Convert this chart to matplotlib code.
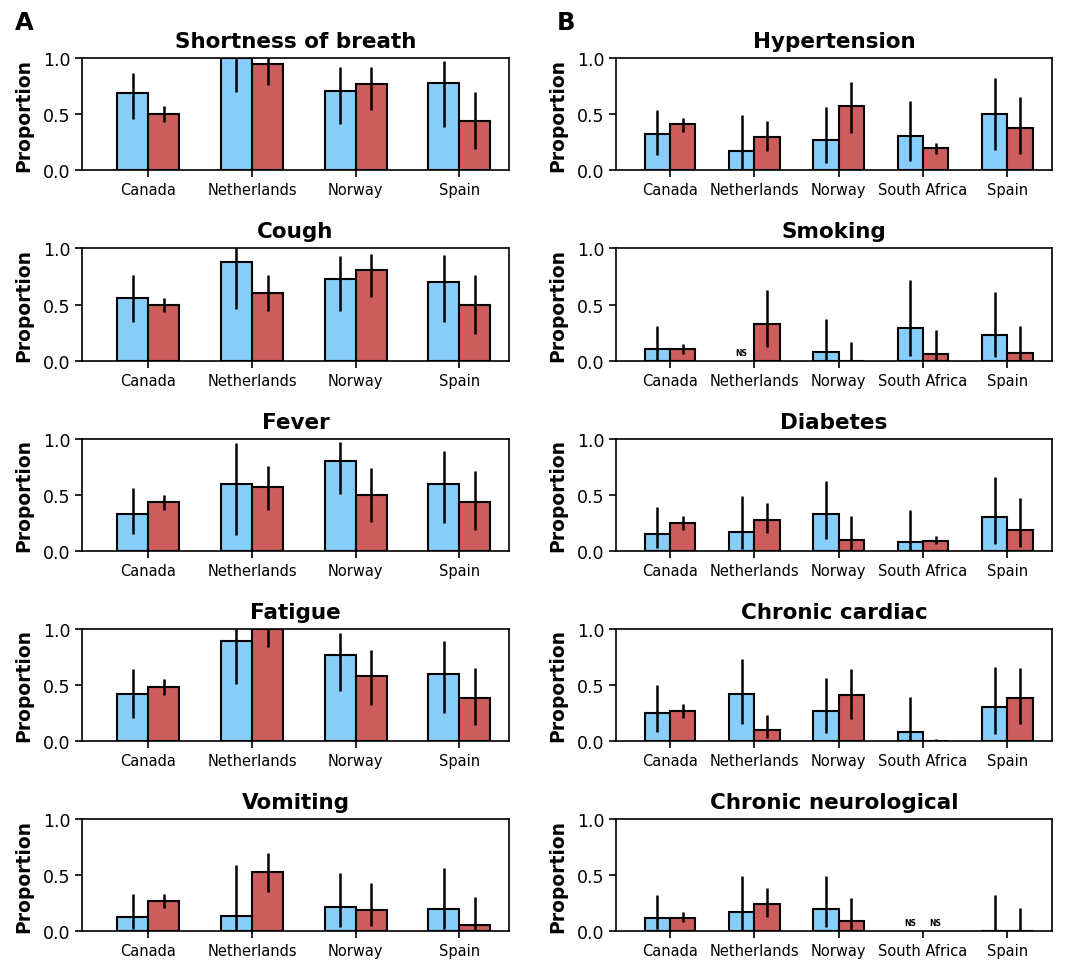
import numpy as np
import matplotlib
matplotlib.use("Agg")
import matplotlib.pyplot as plt

plt.rcParams["font.family"] = ["DejaVu Sans"]

# countries for each column
countries_a = ["Canada", "Netherlands", "Norway", "Spain"]
countries_b = ["Canada", "Netherlands", "Norway", "South Africa", "Spain"]

# panel A: symptoms
symptoms = ["Shortness of breath", "Cough", "Fever", "Fatigue", "Vomiting"]
sym_blue = [[0.69, 1.00, 0.71, 0.78],
            [0.56, 0.88, 0.73, 0.70],
            [0.33, 0.60, 0.80, 0.60],
            [0.42, 0.89, 0.77, 0.60],
            [0.13, 0.14, 0.22, 0.20]]
sym_blue_lo = [[0.46, 0.70, 0.41, 0.39],
               [0.34, 0.46, 0.44, 0.34],
               [0.15, 0.14, 0.51, 0.25],
               [0.21, 0.51, 0.45, 0.25],
               [0.02, 0.00, 0.04, 0.02]]
sym_blue_hi = [[0.87, 1.00, 0.92, 0.97],
               [0.76, 1.00, 0.93, 0.94],
               [0.56, 0.96, 0.97, 0.89],
               [0.64, 1.00, 0.96, 0.89],
               [0.33, 0.59, 0.52, 0.56]]
sym_red = [[0.50, 0.95, 0.77, 0.44],
           [0.50, 0.60, 0.81, 0.50],
           [0.44, 0.57, 0.50, 0.44],
           [0.48, 1.00, 0.58, 0.38],
           [0.27, 0.53, 0.19, 0.06]]
sym_red_lo = [[0.43, 0.76, 0.54, 0.19],
              [0.43, 0.44, 0.57, 0.24],
              [0.37, 0.37, 0.26, 0.19],
              [0.41, 0.84, 0.32, 0.14],
              [0.21, 0.35, 0.05, 0.00]]
sym_red_hi = [[0.57, 1.00, 0.92, 0.70],
              [0.56, 0.76, 0.95, 0.76],
              [0.50, 0.76, 0.74, 0.71],
              [0.55, 1.00, 0.81, 0.65],
              [0.33, 0.70, 0.43, 0.31]]

# panel B: comorbidities (nan = not sampled, shown as NS)
nan = np.nan
comorb = ["Hypertension", "Smoking", "Diabetes", "Chronic cardiac", "Chronic neurological"]
com_blue = [[0.32, 0.17, 0.27, 0.31, 0.50],
            [0.10, nan, 0.08, 0.29, 0.23],
            [0.15, 0.17, 0.33, 0.08, 0.30],
            [0.25, 0.42, 0.27, 0.08, 0.30],
            [0.12, 0.17, 0.20, nan, 0.00]]
com_blue_lo = [[0.14, 0.00, 0.07, 0.08, 0.18],
               [0.00, nan, 0.00, 0.04, 0.03],
               [0.03, 0.02, 0.11, 0.00, 0.06],
               [0.08, 0.15, 0.07, 0.00, 0.06],
               [0.02, 0.01, 0.04, nan, 0.00]]
com_blue_hi = [[0.54, 0.49, 0.56, 0.62, 0.82],
               [0.31, nan, 0.37, 0.72, 0.61],
               [0.39, 0.49, 0.62, 0.37, 0.66],
               [0.50, 0.73, 0.56, 0.39, 0.66],
               [0.32, 0.49, 0.49, nan, 0.32]]
com_red = [[0.41, 0.30, 0.57, 0.20, 0.38],
           [0.10, 0.33, 0.00, 0.06, 0.07],
           [0.25, 0.28, 0.10, 0.09, 0.19],
           [0.27, 0.10, 0.41, 0.005, 0.38],
           [0.12, 0.24, 0.09, nan, 0.00]]
com_red_lo = [[0.34, 0.17, 0.33, 0.15, 0.15],
              [0.06, 0.12, 0.00, 0.00, 0.00],
              [0.19, 0.16, 0.00, 0.06, 0.04],
              [0.21, 0.03, 0.20, 0.00, 0.15],
              [0.08, 0.13, 0.00, nan, 0.00]]
com_red_hi = [[0.47, 0.44, 0.79, 0.24, 0.65],
              [0.15, 0.63, 0.17, 0.27, 0.31],
              [0.31, 0.43, 0.31, 0.13, 0.47],
              [0.33, 0.23, 0.64, 0.02, 0.65],
              [0.17, 0.39, 0.30, nan, 0.21]]

BLUE = "#87CEFA"
RED = "#CD5C5C"
W, H = 1068, 962
fig = plt.figure(figsize=(W / 100, H / 100), dpi=100)

col_rects = [(82, 427), (616, 436)]
row_tops = [59, 249.3, 439.7, 629.8, 820]
ax_h = 112.4
bw = 0.3


def draw_bars(ax, x, vals, lo, hi, color):
    vals = np.array(vals, dtype=float)
    err = np.vstack([vals - np.array(lo), np.array(hi) - vals])
    ax.bar(x, vals, bw, color=color, edgecolor="black", linewidth=1.5,
           yerr=err, error_kw=dict(ecolor="black", elinewidth=1.8, capsize=0))
    for xi, v in zip(x, vals):
        if np.isnan(v):
            ax.text(xi, 0.075, "NS", ha="center", va="center",
                    fontsize=5.5, fontweight="bold")


def panel(ax, title, names, blue, blue_lo, blue_hi, red, red_lo, red_hi):
    n = len(names)
    x = np.arange(n)
    draw_bars(ax, x - bw / 2, blue, blue_lo, blue_hi, BLUE)
    draw_bars(ax, x + bw / 2, red, red_lo, red_hi, RED)
    ax.set_xticks(x)
    ax.set_xticklabels(names, fontsize=10.5)
    ax.set_xlim(-0.64, (n - 1) + bw + 0.05 * (n - 1 + 2 * bw))
    ax.set_ylim(0, 1)
    ax.set_yticks([0, 0.5, 1.0])
    ax.tick_params(axis="y", labelsize=12.5)
    ax.tick_params(length=5, width=1.2)
    for s in ax.spines.values():
        s.set_linewidth(1.2)
    ax.set_ylabel("Proportion", fontsize=13.5, fontweight="bold", labelpad=7)
    ax.set_title(title, fontsize=15.5, fontweight="bold", pad=8)


for col, (x0, w) in enumerate(col_rects):
    for row, top in enumerate(row_tops):
        ax = fig.add_axes([x0 / W, 1 - (top + ax_h) / H, w / W, ax_h / H])
        if col == 0:
            panel(ax, symptoms[row], countries_a, sym_blue[row], sym_blue_lo[row],
                  sym_blue_hi[row], sym_red[row], sym_red_lo[row], sym_red_hi[row])
        else:
            panel(ax, comorb[row], countries_b, com_blue[row], com_blue_lo[row],
                  com_blue_hi[row], com_red[row], com_red_lo[row], com_red_hi[row])

fig.text(15 / W, 1 - 30 / H, "A", fontsize=17.5, fontweight="bold", va="baseline")
fig.text(557 / W, 1 - 30 / H, "B", fontsize=17.5, fontweight="bold", va="baseline")

fig.savefig("out.png", dpi=100)
